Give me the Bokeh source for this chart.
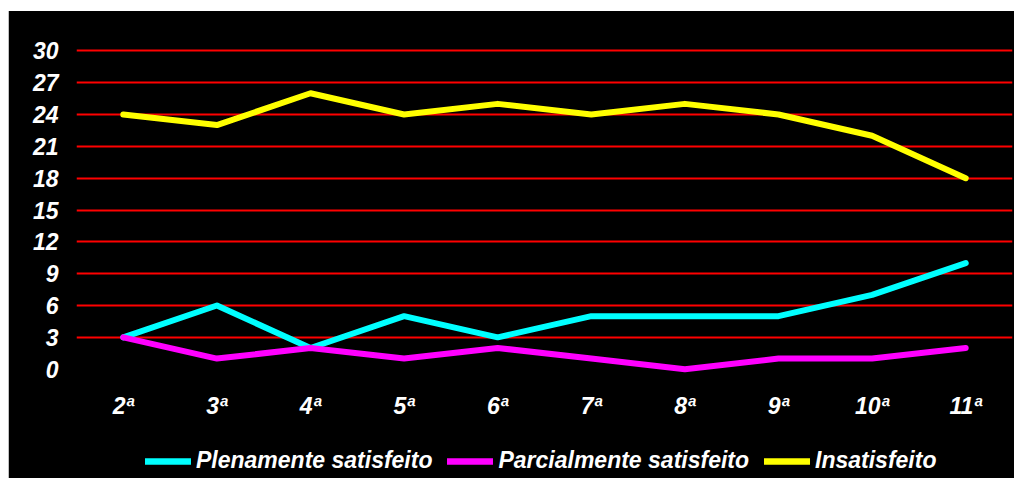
from bokeh.plotting import figure
from bokeh.models import FactorRange, Range1d, FixedTicker, Legend, LegendItem, Spacer
from bokeh.layouts import column, row
from bokeh.embed import file_html
from bokeh.resources import INLINE

categories = ["2ª", "3ª", "4ª", "5ª", "6ª", "7ª", "8ª", "9ª", "10ª", "11ª"]
plenamente = [3, 6, 2, 5, 3, 5, 5, 5, 7, 10]
parcialmente = [3, 1, 2, 1, 2, 1, 0, 1, 1, 2]
insatisfeito = [24, 23, 26, 24, 25, 24, 25, 24, 22, 18]
series_names = ["Plenamente satisfeito", "Parcialmente satisfeito", "Insatisfeito"]
series_colors = ["#00FFFF", "#FF00FF", "#FFFF00"]
y_ticks = [0, 3, 6, 9, 12, 15, 18, 21, 24, 27, 30]
grid_ticks = [3, 6, 9, 12, 15, 18, 21, 24, 27, 30]

FONT = "Liberation Sans"

p = figure(width=1005, height=411, x_range=FactorRange(*categories),
           y_range=Range1d(-0.5, 30.5), output_backend="svg",
           toolbar_location=None, min_border_left=67, min_border_right=2,
           min_border_top=34, min_border_bottom=48)
p.x_range.range_padding = 0
p.background_fill_color = "black"
p.border_fill_color = "black"
p.outline_line_color = None

p.xgrid.grid_line_color = None
p.ygrid.ticker = FixedTicker(ticks=grid_ticks)
p.ygrid.grid_line_color = "#FF0000"
p.ygrid.grid_line_width = 2

p.yaxis.ticker = FixedTicker(ticks=y_ticks)
for ax in (p.xaxis[0], p.yaxis[0]):
    ax.axis_line_color = None
    ax.major_tick_line_color = None
    ax.minor_tick_line_color = None
    ax.major_tick_out = 0
    ax.major_tick_in = 0
    ax.major_label_text_color = "white"
    ax.major_label_text_font = FONT
    ax.major_label_text_font_style = "bold italic"
    ax.major_label_text_font_size = "23px"
p.yaxis.major_label_standoff = 18
p.xaxis.major_label_standoff = 18

all_series = [plenamente, parcialmente, insatisfeito]
for vals, col in zip(all_series, series_colors):
    p.line(categories, vals, line_color=col, line_width=6,
           line_cap="round", line_join="round")

# legend strip below the chart (same series, drawn outside its visible range)
p2 = figure(width=1005, height=56, x_range=FactorRange(*categories),
            y_range=Range1d(-200, -199), output_backend="svg", toolbar_location=None,
            min_border_left=67, min_border_right=2, min_border_top=0, min_border_bottom=0)
p2.axis.visible = False
p2.grid.visible = False
p2.background_fill_color = "black"
p2.border_fill_color = "black"
p2.outline_line_color = None

items = []
for name, vals, col in zip(series_names, all_series, series_colors):
    r = p2.line(categories, vals, line_color=col, line_width=6.5, line_cap="round")
    items.append(LegendItem(label=name, renderers=[r]))

legend = Legend(items=items, orientation="horizontal", location=(69, 4),
                background_fill_alpha=0, border_line_color=None,
                label_text_color="white", label_text_font=FONT,
                label_text_font_style="bold italic", label_text_font_size="23px",
                glyph_width=46, glyph_height=20, label_standoff=5, spacing=15,
                padding=0, margin=0)
p2.add_layout(legend, "center")

chart = column(p, p2, spacing=0, styles={"background-color": "black"})
layout = column(Spacer(height=11),
                row(Spacer(width=8),
                    Spacer(width=1, height=467, styles={"background-color": "#c0c0c0"}),
                    chart, spacing=0),
                spacing=0)

open("out.html", "w").write(file_html(layout, INLINE))
